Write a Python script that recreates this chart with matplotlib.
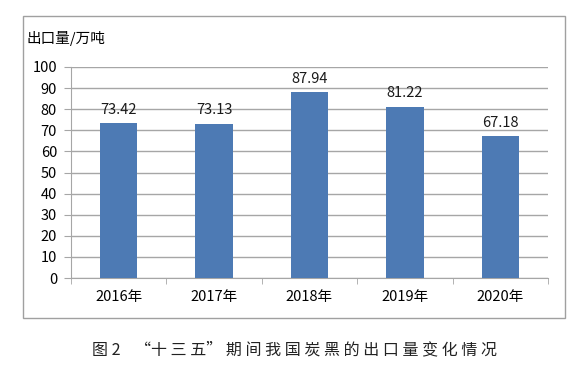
import matplotlib
matplotlib.use("Agg")
import matplotlib.pyplot as plt
from matplotlib.patches import Rectangle
import numpy as np

plt.rcParams['font.family'] = ['Noto Sans CJK SC', 'DejaVu Sans']

# data
years = ['2016年', '2017年', '2018年', '2019年', '2020年']
exports = [73.42, 73.13, 87.94, 81.22, 67.18]
yticks = [0, 10, 20, 30, 40, 50, 60, 70, 80, 90, 100]

fig = plt.figure(figsize=(5.8, 3.69), dpi=100)

# outer chart frame
fig.patches.append(Rectangle((23 / 580, 1 - 318 / 369), (565 - 23) / 580, (318 - 16) / 369,
                             transform=fig.transFigure, fill=False,
                             edgecolor='#a0a0a0', linewidth=1.0))

ax = fig.add_axes([71 / 580, 1 - 278 / 369, (548 - 71) / 580, (278 - 67) / 369])
x = np.arange(len(years))
ax.bar(x, exports, width=0.39, color='#4d7ab4', zorder=3)

for xi, v in zip(x, exports):
    ax.text(xi, v + 3, f'{v:.2f}', ha='center', va='bottom', fontsize=10.5, color='#1a1a1a')

ax.set_xlim(-0.5, len(years) - 0.5)
ax.set_ylim(0, 100)
ax.set_yticks(yticks)
ax.yaxis.grid(True, color='#a6a6a6', linewidth=1.0, zorder=0)
ax.set_yticklabels([str(t) for t in yticks], fontsize=10.5)

ax.set_xticks(x)
ax.set_xticklabels(years, fontsize=10.5)
ax.tick_params(axis='x', length=0, pad=9)
ax.set_xticks(np.arange(-0.5, len(years)), minor=True)
ax.tick_params(axis='x', which='minor', length=4, color='#a6a6a6', direction='out')
ax.tick_params(axis='y', length=5, color='#a6a6a6', pad=5)

for s in ['top', 'right']:
    ax.spines[s].set_visible(False)
ax.spines['left'].set_color('#a6a6a6')
ax.spines['bottom'].set_color('#a6a6a6')

fig.text(27 / 580, 1 - 38 / 369, '出口量/万吨', fontsize=10.5, va='center', ha='left')

fig.text(295 / 580, 1 - 350 / 369, '图 2    “十 三 五” 期 间 我 国 炭 黑 的 出 口 量 变 化 情 况',
         fontsize=11.5, ha='center', va='center', color='#222222')

fig.savefig('out.png', dpi=100)
